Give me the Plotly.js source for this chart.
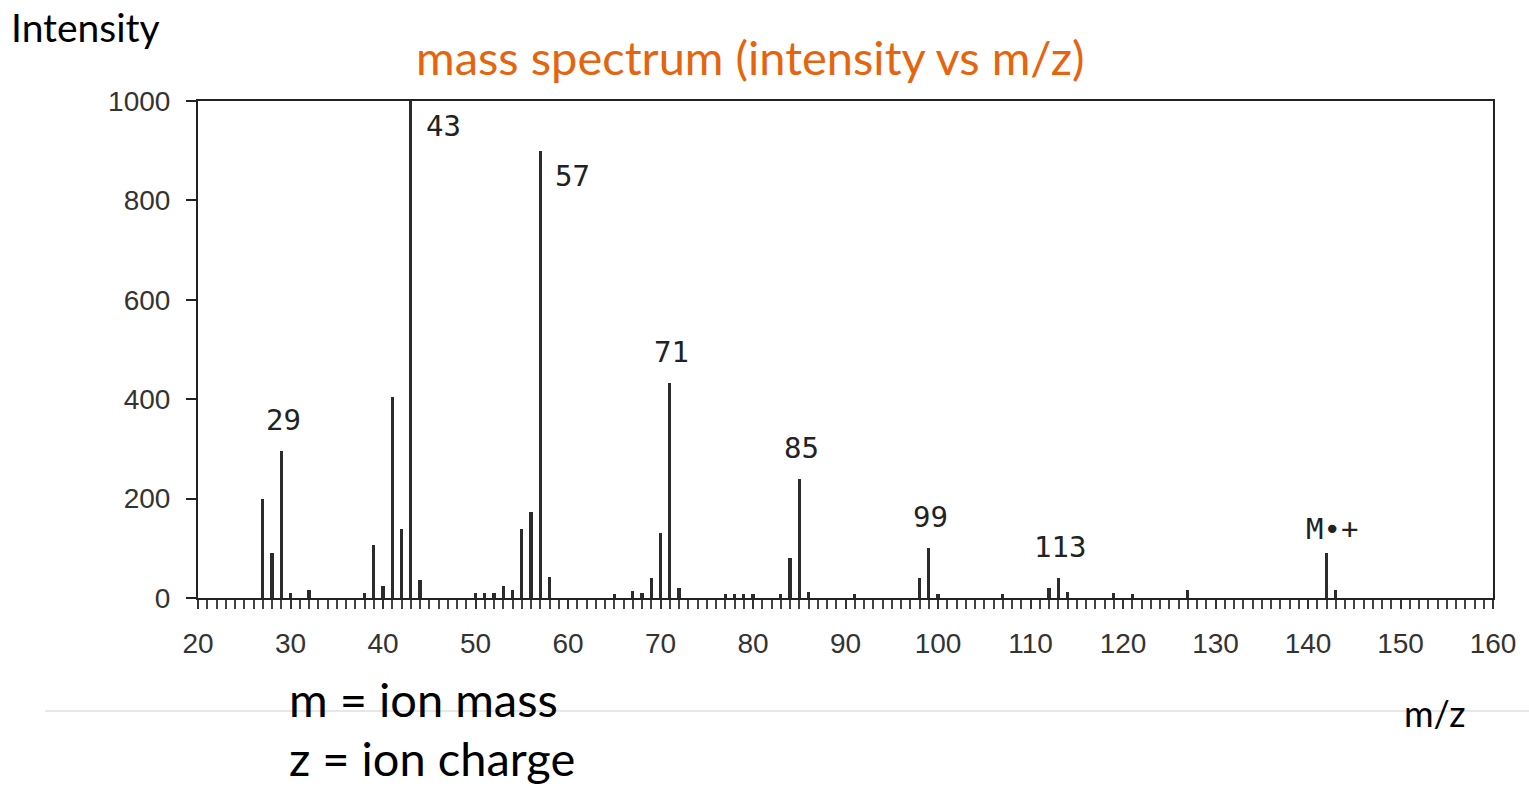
<!DOCTYPE html>
<html>
<head>
<meta charset="utf-8">
<script src="https://cdn.plot.ly/plotly-3.0.1.min.js"></script>
<style>html,body{margin:0;padding:0;background:#fff;}#chart{width:1529px;height:786px;}</style>
</head>
<body>
<div id="chart"></div>
<script>
// m/z values and relative intensities
const mz = [27,28,29,30,32,38,39,40,41,42,43,44,50,51,52,53,54,55,56,57,58,65,67,68,69,70,71,72,77,78,79,80,83,84,85,86,91,98,99,100,107,112,113,114,119,121,127,142,143];
const intensity = [200,90,295,10,17,10,106,24,404,139,1000,37,10,10,10,24,17,139,173,900,43,8,15,10,40,130,432,21,8,8,8,8,8,81,240,13,8,40,101,8,8,20,40,12,10,8,17,90,17];

// labelled peaks
const labelMz = [29,43,57,71,85,99,113,142];
const labelText = ['29','43','57','71','85','99','113','M\u2022+'];

const xTickVals = [20,30,40,50,60,70,80,90,100,110,120,130,140,150,160];
const yTickVals = [0,200,400,600,800,1000];

const trace = {
  type: 'bar',
  x: mz,
  y: intensity,
  width: 0.34,
  marker: {color: '#2b2b2b', line: {width: 0}},
  hoverinfo: 'x+y'
};

const annotations = labelMz.map((m, i) => {
  const v = intensity[mz.indexOf(m)];
  const side = v > 800;
  return {
    x: m, y: v, xref: 'x', yref: 'y',
    text: labelText[i], showarrow: false,
    font: {family: 'DejaVu Sans Mono', size: 29, color: '#222'},
    xanchor: side ? 'left' : 'center',
    yanchor: side ? 'top' : 'bottom',
    xshift: side ? 13 : (m === 142 ? 5 : 2),
    yshift: side ? -6 : (m === 142 ? 5 : 12)
  };
});

annotations.push(
  {xref: 'paper', yref: 'paper', x: -0.146, y: 1.149, xanchor: 'left', yanchor: 'middle',
   text: 'Intensity', showarrow: false, font: {family: 'Lato', size: 39, color: '#000'}},
  {xref: 'paper', yref: 'paper', x: 0.955, y: -0.2314, xanchor: 'center', yanchor: 'middle',
   text: 'm/z', showarrow: false, font: {family: 'Lato', size: 36, color: '#000'}},
  {xref: 'paper', yref: 'paper', x: 0.0687, y: -0.203, xanchor: 'left', yanchor: 'middle',
   text: 'm = ion mass', showarrow: false, font: {family: 'Lato', size: 47, color: '#000'}},
  {xref: 'paper', yref: 'paper', x: 0.0687, y: -0.322, xanchor: 'left', yanchor: 'middle',
   text: 'z = ion charge', showarrow: false, font: {family: 'Lato', size: 47, color: '#000'}}
);

const layout = {
  width: 1529, height: 786,
  margin: {l: 198, r: 36, t: 101, b: 188, pad: 0},
  paper_bgcolor: '#fff', plot_bgcolor: '#fff',
  showlegend: false,
  bargap: 0,
  title: {
    text: 'mass spectrum (intensity vs m/z)',
    font: {family: 'Lato', size: 47, color: '#E5650F'},
    xref: 'paper', x: 0.4265, xanchor: 'center',
    yref: 'container', y: 0.925, yanchor: 'middle'
  },
  xaxis: {
    range: [20, 160], tickvals: xTickVals, ticktext: xTickVals.map(String),
    showgrid: false, zeroline: false,
    showline: true, linecolor: '#222', linewidth: 2, mirror: true,
    ticks: 'outside', ticklen: 9, tickwidth: 2, tickcolor: '#333',
    minor: {dtick: 1, tick0: 20, ticks: 'outside', ticklen: 9, tickwidth: 2, tickcolor: '#444', showgrid: false},
    tickfont: {family: 'Liberation Sans', size: 28, color: '#333'},
    ticklabelstandoff: 10
  },
  yaxis: {
    range: [0, 1000], tickvals: yTickVals, ticktext: yTickVals.map(String),
    showgrid: false, zeroline: false,
    showline: true, linecolor: '#222', linewidth: 2, mirror: true,
    ticks: 'outside', ticklen: 10, tickwidth: 2, tickcolor: '#222',
    tickfont: {family: 'Liberation Sans', size: 28, color: '#333'},
    ticklabelstandoff: 10
  },
  shapes: [
    {type: 'line', xref: 'paper', yref: 'paper', x0: -0.118, x1: 1.03, y0: -0.2274, y1: -0.2274,
     line: {color: '#d0d0d0', width: 1}, layer: 'below'},
    {type: 'line', xref: 'paper', yref: 'paper', x0: -0.007, x1: 0, y0: 0, y1: 0,
     line: {color: '#222', width: 2}}
  ],
  annotations: annotations
};

Plotly.newPlot('chart', [trace], layout, {displayModeBar: false, staticPlot: true});
</script>
</body>
</html>
